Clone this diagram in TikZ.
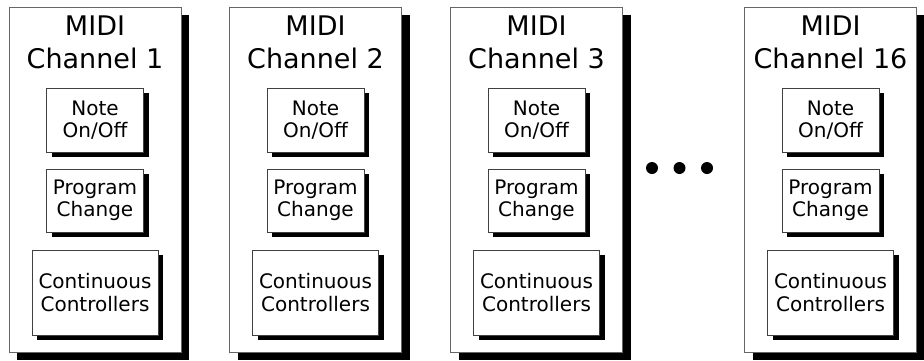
\documentclass[tikz,border=0pt]{standalone}
\usepackage{fontspec}
\setmainfont{DejaVu Sans}
\usetikzlibrary{shadows}
\begin{document}
\begin{tikzpicture}[x=1pt,y=-1pt,
  chanbox/.style={draw=black!60, line width=0.9pt, fill=white, inner sep=0pt,
    minimum width=172pt, minimum height=345pt,
    drop shadow={shadow xshift=8pt, shadow yshift=-8pt, fill=black, opacity=1}},
  msgbox/.style={draw=black!75, line width=0.9pt, fill=white, inner sep=0pt, align=center,
    font=\fontsize{20}{22.5}\selectfont,
    drop shadow={shadow xshift=5pt, shadow yshift=-5pt, fill=black, opacity=1}},
  title/.style={anchor=base, inner sep=0pt, font=\fontsize{27}{33}\selectfont},
  dotmark/.style={circle, fill=black, inner sep=0pt, minimum size=12pt}]
\useasboundingbox (0,0) rectangle (924,360);
\fill[white] (0,0) rectangle (924,360);
\foreach \cx/\lab/\n in {95/1/a, 315.5/2/b, 536.5/3/c, 830.5/16/d}{
  \node[chanbox] (ch\n) at (\cx,179.5) {};
  \node[title] (mi\n) at (\cx,35) {MIDI};
  \node[title] (cn\n) at (\cx,68) {Channel \lab};
  \node[msgbox, minimum width=97pt, minimum height=64pt] (note\n) at (\cx,120) {Note\\On/Off};
  \node[msgbox, minimum width=97pt, minimum height=63pt] (prog\n) at (\cx,200.5) {Program\\Change};
  \node[msgbox, minimum width=126pt, minimum height=85pt] (cont\n) at (\cx,292.5) {Continuous\\Controllers};
}
\node[dotmark] (d1) at (652,168) {};
\node[dotmark] (d2) at (679.5,168) {};
\node[dotmark] (d3) at (707,168) {};
\end{tikzpicture}
\end{document}
